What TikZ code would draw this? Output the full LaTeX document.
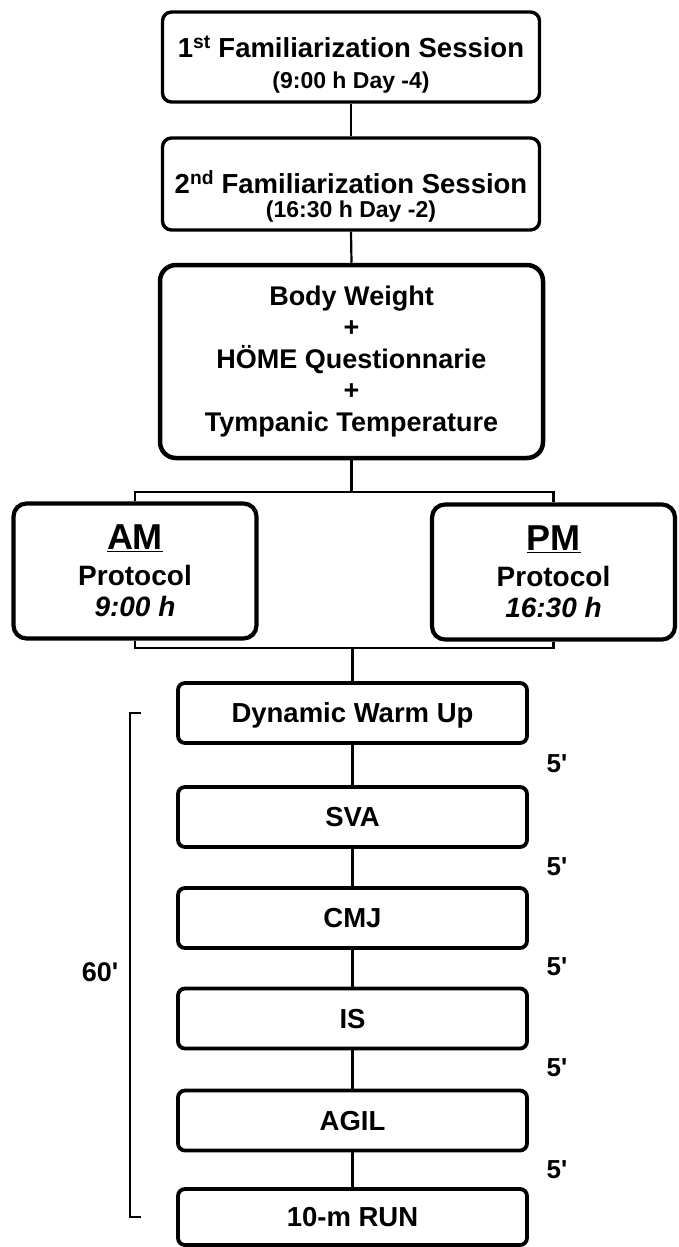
\documentclass[tikz,border=0pt]{standalone}
\usepackage{fontspec}
\setmainfont{Liberation Sans}[Ligatures=TeXOff]
\begin{document}
\begin{tikzpicture}[x=1pt,y=-1pt,
  famstyle/.style={draw, line width=3.4pt, rounded corners=9pt, align=center,
    minimum width=377pt, font=\bfseries\fontsize{27.5}{31}\selectfont},
  basebox/.style={draw, line width=4.5pt, rounded corners=16pt, align=center,
    minimum width=383pt, minimum height=193pt, font=\bfseries\fontsize{27}{31.5}\selectfont},
  protbox/.style={draw, line width=4.2pt, rounded corners=13pt, align=center,
    minimum width=243pt, minimum height=135pt, font=\bfseries\fontsize{28}{31}\selectfont},
  testbox/.style={draw, line width=3.8pt, rounded corners=7pt,
    minimum width=349pt, minimum height=60pt, text height=19.8pt, text depth=0pt,
    font=\bfseries\fontsize{27.5}{32}\selectfont},
  timelabel/.style={text height=19pt, text depth=0pt, inner sep=0pt,
    font=\bfseries\fontsize{26}{30}\selectfont},
  conn/.style={line width=2.2pt},
  brk/.style={line width=2.6pt}]
\useasboundingbox (0,0) rectangle (678,1247);

% familiarization sessions
\node[famstyle, minimum height=90pt] (fam1) at (351,57)
  {\rule{0pt}{36pt}1\textsuperscript{st} Familiarization Session\\
   {\fontsize{23}{31}\selectfont (9:00 h Day -4)}};
\node[famstyle, minimum height=92pt, font=\bfseries\fontsize{27.5}{24}\selectfont] (fam2) at (351,184)
  {\rule{0pt}{48pt}2\textsuperscript{nd} Familiarization Session\\
   {\fontsize{23}{24}\selectfont (16:30 h Day -2)}};

% baseline measurements
\node[basebox] (base) at (351.5,361.5)
  {Body Weight\\+\\H\"OME Questionnarie\\+\\Tympanic Temperature};

% morning and evening protocols
\node[protbox] (am) at (135,571)
  {{\fontsize{36}{36}\selectfont\underline{AM}}\\[5pt]Protocol\\\textit{9:00 h}};
\node[protbox] (pm) at (553.5,572)
  {{\fontsize{36}{36}\selectfont\underline{PM}}\\[5pt]Protocol\\\textit{16:30 h}};

% test battery
\node[testbox] (dyn)  at (352.5,713)    {Dynamic Warm Up};
\node[testbox] (sva)  at (352.5,817)    {SVA};
\node[testbox] (cmj)  at (352.5,918)    {CMJ};
\node[testbox] (is)   at (352.5,1018.5) {IS};
\node[testbox] (agil) at (352.5,1120.5) {AGIL};
\node[testbox, minimum height=56pt] (run) at (352.5,1217) {10-m RUN};

% connectors
\draw[conn] (fam1.south) -- (fam2.north);
\draw[conn] (fam2.south) -- (base.north);
\coordinate (lvl1) at (0,492);
\coordinate (lvl2) at (0,648);
\coordinate (jt) at (base.south |- lvl1);
\coordinate (jb) at (dyn.north |- lvl2);
\draw[conn] (base.south) -- (jt);
\draw[conn] (am.north) |- (jt) -| (pm.north);
\draw[conn] (am.south) |- (jb) -| (pm.south);
\draw[conn] (jb) -- (dyn.north);
\draw[conn] (dyn.south) -- (sva.north);
\draw[conn] (sva.south) -- (cmj.north);
\draw[conn] (cmj.south) -- (is.north);
\draw[conn] (is.south) -- (agil.north);
\draw[conn] (agil.south) -- (run.north);

% rest intervals
\node[timelabel] (r1) at (557,763)  {5'};
\node[timelabel] (r2) at (557,866)  {5'};
\node[timelabel] (r3) at (557,966)  {5'};
\node[timelabel] (r4) at (557,1067) {5'};
\node[timelabel] (r5) at (557,1169) {5'};

% total duration bracket
\coordinate (bt) at ([xshift=-35pt]dyn.west);
\coordinate (bb) at ([xshift=-35pt]run.west);
\draw[brk] (bt) -- ++(-11,0) |- (bb);
\node[timelabel, font=\bfseries\fontsize{27}{30}\selectfont] (total) at (100,972) {60'};
\end{tikzpicture}
\end{document}
